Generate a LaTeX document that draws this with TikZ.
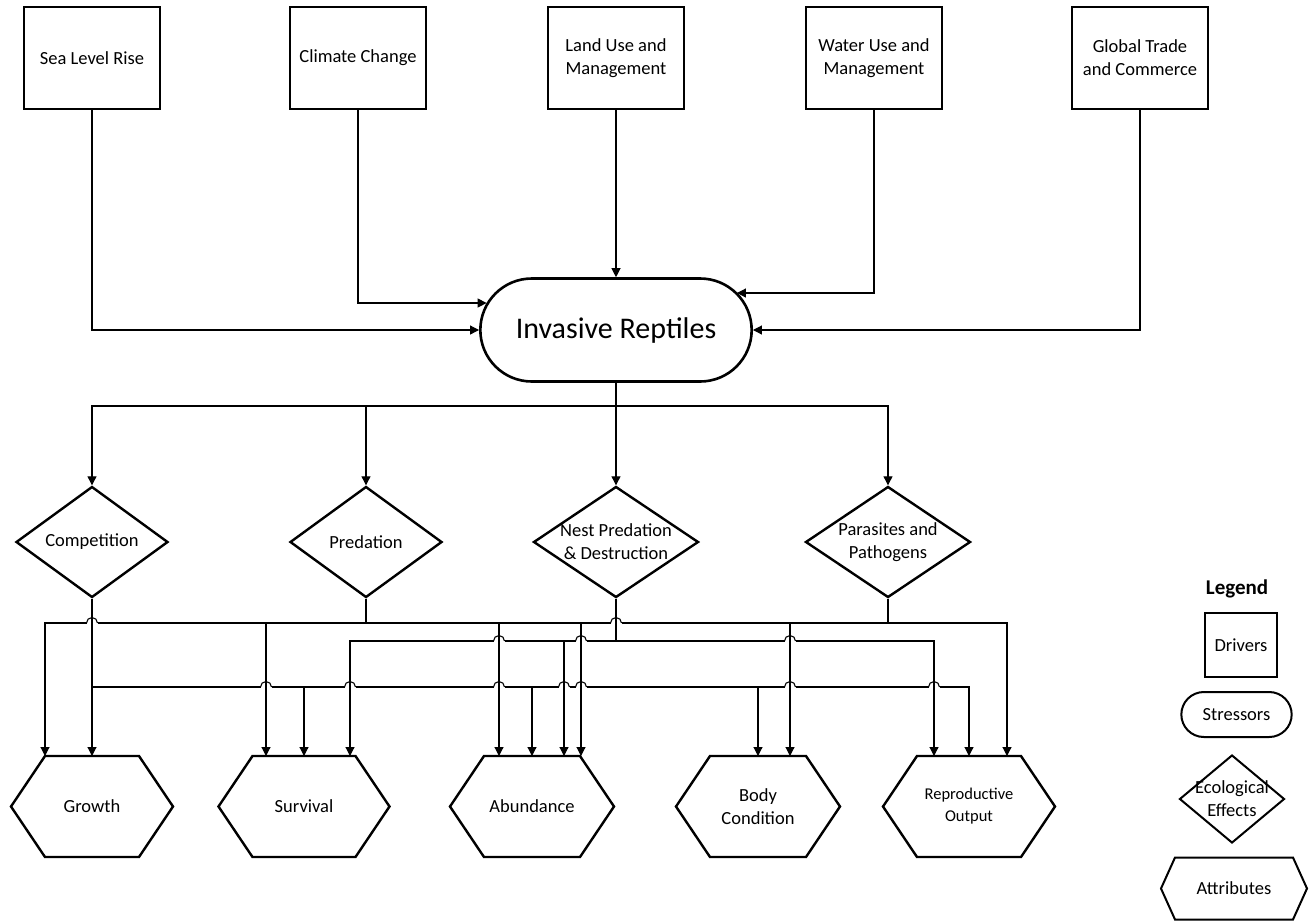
\documentclass[tikz,border=0pt]{standalone}
\usepackage{fontspec}
\setmainfont{Carlito}
\usetikzlibrary{arrows.meta, shapes.geometric, shapes.misc, calc}

% small jump of a horizontal line over a vertical one
\newcommand{\linehop}[1]{%
  \fill[white] ($(#1)+(-5.5,-1.6)$) rectangle ($(#1)+(5.5,1.6)$);
  \draw[wire] ($(#1)+(0,-6)$) -- ($(#1)+(0,6)$);
  \draw[wire] ($(#1)+(-5.5,0)$) arc[start angle=180, end angle=0, radius=5.5pt];
}
% hexagon outline round an attribute node
\newcommand{\hexframe}[3]{%
  \draw[line width=#3, line join=miter] (#1.west) -- ([xshift=#2]#1.north west) -- ([xshift=-#2]#1.north east)
    -- (#1.east) -- ([xshift=-#2]#1.south east) -- ([xshift=#2]#1.south west) -- cycle;
}

\begin{document}
\begin{tikzpicture}[x=1pt,y=-1pt,>={Triangle[width=9pt,length=9pt]},
  wire/.style={line width=1.1pt},
  link/.style={wire,->},
  txt/.style={font=\fontsize{18.5}{23}\selectfont},
  driver/.style={rectangle,draw,line width=2.6pt,minimum width=136pt,minimum height=102pt,align=center,txt},
  stressor/.style={rounded rectangle,draw,line width=2.6pt,minimum width=278pt,minimum height=103pt,font=\fontsize{30}{36}\selectfont},
  effect/.style={diamond,draw,line width=2.4pt,aspect=1.45,inner sep=-10pt,minimum height=111pt,align=center,txt},
  attribute/.style={rectangle,minimum height=101pt,inner sep=0pt,outer sep=0pt,align=center,txt}]
  \useasboundingbox (0,0) rectangle (1309,922);

  % drivers
  \node[driver] (slr) at (92,58) {Sea Level Rise};
  \node[driver] (cc) at (358,58) {Climate Change};
  \node[driver] (lu) at (616,58) {Land Use and\\Management};
  \node[driver] (wu) at (874,58) {Water Use and\\Management};
  \node[driver] (gt) at (1140,58) {Global Trade\\and Commerce};

  % stressor
  \node[stressor] (ir) at (616,330) {Invasive Reptiles};

  % ecological effects
  \node[effect, minimum width=152pt] (comp) at (92,542) {Competition};
  \node[effect, minimum width=152pt] (pred) at (366,542) {Predation};
  \node[effect, minimum width=165pt] (nest) at (616,542) {Nest Predation\\\& Destruction};
  \node[effect, minimum width=165pt] (para) at (888,542) {Parasites and\\Pathogens};

  % attributes
  \node[attribute, minimum width=162pt] (growth) at (92,806.5) {Growth};
  \node[attribute, minimum width=171pt] (surv) at (304,806.5) {Survival};
  \node[attribute, minimum width=164pt] (abund) at (532,806.5) {Abundance};
  \node[attribute, minimum width=164pt] (body) at (758,806.5) {Body\\Condition};
  \node[attribute, minimum width=172pt, font=\fontsize{16.5}{22}\selectfont] (repro) at (969,806.5) {Reproductive\\Output};
  \foreach \n in {growth,surv,abund,body,repro}
    \hexframe{\n}{34pt}{2.4pt};

  % drivers -> stressor
  \draw[link] (slr.south) |- (ir.west);
  \draw[link] (cc.south) |- ($(ir.west)+(7.6,-27)$);
  \draw[link] (lu.south) -- (ir.north);
  \draw[link] (wu.south) |- ($(ir.east)+(-16,-37)$);
  \draw[link] (gt.south) |- (ir.east);

  % stressor -> effects
  \coordinate (split) at (616,406);
  \draw[link] (ir.south) -- (nest.north);
  \foreach \e in {comp,pred,para}
    \draw[link] (split) -| (\e.north);

  % effects -> attributes
  \coordinate (busA) at (0,623);
  \coordinate (busB) at (0,641);
  \coordinate (busC) at (0,687);
  \draw[link] (comp.south) -- (growth.north);
  \foreach \t in {surv,abund,body,repro}
    \draw[link] (comp.south |- busC) -| (\t.north);
  \foreach \dx/\t in {-47/growth,-38/surv,49/abund}
    \draw[link] (pred.south) -- (pred.south |- busA) -| ([xshift=\dx pt]\t.north);
  \foreach \dx/\t in {-33/abund,32/body,38/repro}
    \draw[link] (para.south) -- (para.south |- busA) -| ([xshift=\dx pt]\t.north);
  \foreach \dx/\t in {46/surv,32/abund,-35/repro}
    \draw[link] (nest.south) -- (nest.south |- busB) -| ([xshift=\dx pt]\t.north);

  \foreach \p in {{92,623},{616,623},{499,641},{581,641},{790,641},{266,687},{350,687},{499,687},{564,687},{581,687},{790,687},{934,687}}
    \linehop{\p};

  % legend
  \node[font=\bfseries\fontsize{21}{25}\selectfont] (legend) at (1237,589) {Legend};
  \node[driver, minimum width=72pt, minimum height=64pt, line width=2pt] (keydriver) at (1241,645) {Drivers};
  \node[stressor, minimum width=117pt, minimum height=45pt, line width=2pt, txt] (keystress) at (1236.5,714.5) {Stressors};
  \node[effect, minimum width=105pt, minimum height=88pt, line width=2pt] (keyeffect) at (1232,799) {Ecological\\Effects};
  \node[attribute, minimum width=146pt, minimum height=62pt] (keyattr) at (1234,888.5) {Attributes};
  \hexframe{keyattr}{14pt}{2pt};
\end{tikzpicture}
\end{document}
